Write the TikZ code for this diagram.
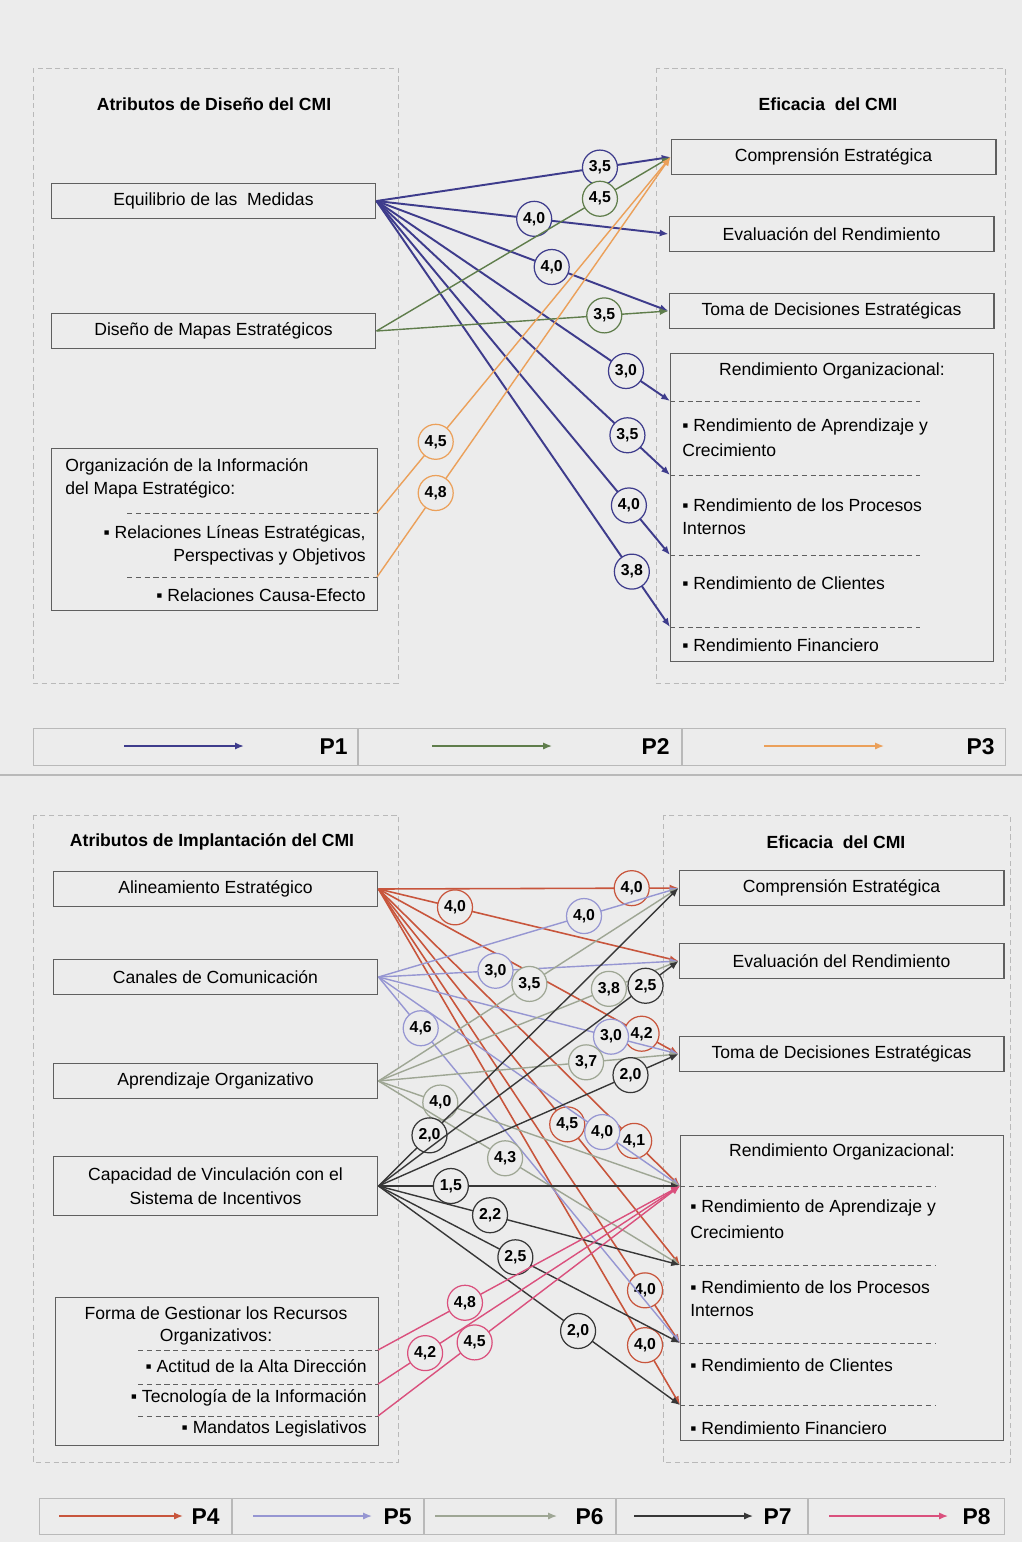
\documentclass[tikz,border=0pt]{standalone}
\usepackage{fontspec}
\setmainfont{Liberation Sans}
\usetikzlibrary{arrows.meta}

\definecolor{bg}{RGB}{236,236,236}
\definecolor{framegray}{RGB}{185,185,185}
\definecolor{boxline}{RGB}{95,95,95}
\definecolor{pone}{RGB}{62,60,140}
\definecolor{ptwo}{RGB}{95,125,75}
\definecolor{pthree}{RGB}{235,160,90}
\definecolor{pfour}{RGB}{200,85,60}
\definecolor{pfive}{RGB}{150,150,210}
\definecolor{psix}{RGB}{158,166,148}
\definecolor{pseven}{RGB}{55,55,55}
\definecolor{peight}{RGB}{218,80,125}

\tikzstyle{box} = [rectangle, draw=boxline, line width=0.6pt, minimum width=6.5cm, minimum height=0.7cm, text centered, inner sep=0pt]
\tikzstyle{bigbox} = [rectangle, draw=boxline, line width=0.6pt, inner sep=0pt, anchor=north west]
\tikzstyle{panel} = [draw=framegray, densely dashed, line width=0.4pt]
\tikzstyle{title} = [font=\bfseries, inner sep=0pt]
\tikzstyle{line} = [inner sep=0pt]
\tikzstyle{sep} = [densely dashed, boxline, line width=0.5pt]
\tikzstyle{val} = [circle, draw, fill=bg, inner sep=0pt, minimum size=0.7cm, font=\small\bfseries, text=black, line width=0.7pt]
\tikzstyle{key} = [font=\fontsize{13}{15}\selectfont\bfseries, inner sep=0pt, anchor=east]
\tikzstyle{arrow} = [-{Latex[length=5pt,width=4pt]}, line width=0.8pt]
\tikzstyle{p1} = [arrow, pone, line width=1.1pt]
\tikzstyle{p2} = [arrow, ptwo]
\tikzstyle{p3} = [arrow, pthree]
\tikzstyle{p4} = [arrow, pfour, line width=0.9pt]
\tikzstyle{p5} = [arrow, pfive]
\tikzstyle{p6} = [arrow, psix]
\tikzstyle{p7} = [arrow, pseven]
\tikzstyle{p8} = [arrow, peight]

\begin{document}
\begin{tikzpicture}[x=0.02cm, y=-0.02cm]
\useasboundingbox (0,0) rectangle (1022,1542);
\fill [bg] (0,0) rectangle (1022,1542);

% ---- panel frames
\draw [panel] (33,68) rectangle (398,683);
\draw [panel] (656,68) rectangle (1005,683);
\draw [panel] (33,815) rectangle (398,1462);
\draw [panel] (663,815) rectangle (1010,1462);
\draw [framegray, line width=0.8pt] (0,775) -- (1022,775);

% ---- design attributes
\node (t1) [title] at (214,104) {Atributos de Diseño del CMI};
\node (t2) [title] at (828,104) {Eficacia~ del CMI};

\node (eq) [box] at (213.5,201) {Equilibrio de las~ Medidas};
\node (dis) [box] at (213.5,331) {Diseño de Mapas Estratégicos};
\node (org) [bigbox, minimum width=6.52cm, minimum height=3.24cm] at (51,448) {};
\node (org1) [line, anchor=west] at (65,467) {Organización de la Información};
\node (org2) [line, anchor=west] at (65,490) {del Mapa Estratégico:};
\draw [sep] (127,513) -- (377,513);
\node (org3) [line, anchor=east] at (366,534) {▪ Relaciones Líneas Estratégicas,};
\node (org4) [line, anchor=east] at (366,557) {Perspectivas y Objetivos};
\draw [sep] (127,577) -- (377,577);
\node (org5) [line, anchor=east] at (366,595) {▪ Relaciones Causa-Efecto};
\coordinate (o1) at (377,513);
\coordinate (o2) at (377,577);

\node (comp1) [box] at (833.5,157) {Comprensión Estratégica};
\node (eval1) [box] at (831.5,234) {Evaluación del Rendimiento};
\node (toma1) [box] at (831.5,311) {Toma de Decisiones Estratégicas};
\node (rend1) [bigbox, minimum width=6.46cm, minimum height=6.16cm] at (670,353) {};
\node (rt1) [line] at (832,371) {Rendimiento Organizacional:};
\draw [sep] (670,401) -- (920,401);
\node (ra1t) [line, anchor=west] at (682,427) {▪ Rendimiento de Aprendizaje y};
\node (ra1u) [line, anchor=west] at (682,450) {Crecimiento};
\draw [sep] (670,475) -- (920,475);
\node (rp1t) [line, anchor=west] at (682,505) {▪ Rendimiento de los Procesos};
\node (rp1u) [line, anchor=west] at (682,529) {Internos};
\draw [sep] (670,555) -- (920,555);
\node (rc1t) [line, anchor=west] at (682,583) {▪ Rendimiento de Clientes};
\draw [sep] (670,627) -- (920,627);
\node (rf1t) [line, anchor=west] at (682,645) {▪ Rendimiento Financiero};
\coordinate (ra1) at (670,401);
\coordinate (rp1) at (670,475);
\coordinate (rc1) at (670,555);
\coordinate (rf1) at (670,627);

\draw [p1] (eq.east) -- node[val,pos=0.76] {3,5} (comp1.west);
\draw [p1] (eq.east) -- node[val,pos=0.54] {4,0} (eval1.west);
\draw [p1] (eq.east) -- node[val,pos=0.6] {4,0} (toma1.west);
\draw [p1] (eq.east) -- node[val,pos=0.85] {3,0} (ra1);
\draw [p1] (eq.east) -- node[val,pos=0.855] {3,5} (rp1);
\draw [p1] (eq.east) -- node[val,pos=0.86] {4,0} (rc1);
\draw [p1] (eq.east) -- node[val,pos=0.87] {3,8} (rf1);
\draw [p2] (dis.east) -- node[val,pos=0.76] {4,5} (comp1.west);
\draw [p2] (dis.east) -- node[val,pos=0.78] {3,5} (toma1.west);
\draw [p3] (o1) -- node[val,pos=0.2] {4,5} (comp1.west);
\draw [p3] (o2) -- node[val,pos=0.2] {4,8} (comp1.west);

% ---- key P1-P3
\node (k1) [rectangle, draw=framegray, line width=0.6pt, minimum width=19.44cm, minimum height=0.74cm, anchor=north west, inner sep=0pt] at (33,728) {};
\draw [framegray, line width=0.6pt] (358,728) -- (358,765) (682,728) -- (682,765);
\coordinate (k1a) at (124,746); \coordinate (k1b) at (244,746);
\coordinate (k2a) at (432,746); \coordinate (k2b) at (552,746);
\coordinate (k3a) at (764,746); \coordinate (k3b) at (884,746);
\draw [p1] (k1a) -- (k1b);
\draw [p2] (k2a) -- (k2b);
\draw [p3] (k3a) -- (k3b);
\node (kp1) [key] at (348,747) {P1};
\node (kp2) [key] at (670,747) {P2};
\node (kp3) [key] at (995,747) {P3};

% ---- implementation attributes
\node (t3) [title] at (212,842) {Atributos de Implantación del CMI};
\node (t4) [title] at (836,842) {Eficacia~ del CMI};

\node (alin) [box] at (215.5,889) {Alineamiento Estratégico};
\node (can) [box] at (215.5,977) {Canales de Comunicación};
\node (apr) [box] at (215.5,1081) {Aprendizaje Organizativo};
\node (cap) [box, minimum height=1.18cm, align=center] at (215.5,1186) {Capacidad de Vinculación con el\\[2pt]Sistema de Incentivos};
\node (forma) [bigbox, minimum width=6.46cm, minimum height=2.96cm] at (55,1297) {};
\node (fo1) [line] at (216,1313) {Forma de Gestionar los Recursos};
\node (fo2) [line] at (216,1337) {Organizativos:};
\draw [sep] (138,1350) -- (378,1350);
\node (fo3) [line, anchor=east] at (367,1366) {▪ Actitud de la Alta Dirección};
\draw [sep] (138,1384) -- (378,1384);
\node (fo4) [line, anchor=east] at (367,1398) {▪ Tecnología de la Información};
\draw [sep] (138,1416) -- (378,1416);
\node (fo5) [line, anchor=east] at (367,1429) {▪ Mandatos Legislativos};
\coordinate (f1) at (378,1350);
\coordinate (f2) at (378,1384);
\coordinate (f3) at (378,1416);

\node (comp2) [box] at (841.5,888) {Comprensión Estratégica};
\node (eval2) [box] at (841.5,961) {Evaluación del Rendimiento};
\node (toma2) [box] at (841.5,1054) {Toma de Decisiones Estratégicas};
\node (rend2) [bigbox, minimum width=6.46cm, minimum height=6.1cm] at (680,1135) {};
\node (rt2) [line] at (842,1152) {Rendimiento Organizacional:};
\draw [sep] (680,1186) -- (935,1186);
\node (ra2t) [line, anchor=west] at (690,1208) {▪ Rendimiento de Aprendizaje y};
\node (ra2u) [line, anchor=west] at (690,1232) {Crecimiento};
\draw [sep] (680,1265) -- (935,1265);
\node (rp2t) [line, anchor=west] at (690,1287) {▪ Rendimiento de los Procesos};
\node (rp2u) [line, anchor=west] at (690,1311) {Internos};
\draw [sep] (680,1343) -- (935,1343);
\node (rc2t) [line, anchor=west] at (690,1365) {▪ Rendimiento de Clientes};
\draw [sep] (680,1405) -- (935,1405);
\node (rf2t) [line, anchor=west] at (690,1428) {▪ Rendimiento Financiero};
\coordinate (ra2) at (680,1186);
\coordinate (rp2) at (680,1265);
\coordinate (rc2) at (680,1343);
\coordinate (rf2) at (680,1405);

% P4
\draw [p4] (alin.east) -- node[val,pos=0.844] {4,0} (comp2.west);
\draw [p4] (alin.east) -- node[val,pos=0.255] {4,0} (eval2.west);
\draw [p4] (alin.east) -- node[val,pos=0.877] {4,2} (toma2.west);
\draw [p4] (alin.east) -- node[val,pos=0.848] {4,1} (ra2);
\draw [p4] (alin.east) -- node[val,pos=0.626] {4,5} (rp2);
\draw [p4] (alin.east) -- node[val,pos=0.884] {4,0} (rc2);
\draw [p4] (alin.east) -- node[val,pos=0.884] {4,0} (rf2);
% P5
\draw [p5] (can.east) -- node[val,pos=0.685] {4,0} (comp2.west);
\draw [p5] (can.east) -- node[val,pos=0.39] {3,0} (eval2.west);
\draw [p5] (can.east) -- node[val,pos=0.775] {3,0} (toma2.west);
\draw [p5] (can.east) -- node[val,pos=0.742] {4,0} (ra2);
\draw [p5] (can.east) -- node[val,pos=0.14] {4,6} (rc2);
% P6
\draw [p6] (apr.east) -- node[val,pos=0.503] {3,5} (comp2.west);
\draw [p6] (apr.east) -- node[val,pos=0.768] {3,8} (eval2.west);
\draw [p6] (apr.east) -- node[val,pos=0.692] {3,7} (toma2.west);
\draw [p6] (apr.east) -- node[val,pos=0.205] {4,0} (ra2);
\draw [p6] (apr.east) -- node[val,pos=0.42] {4,3} (rp2);
% P7
\draw [p7] (cap.east) -- node[val,pos=0.17] {2,0} (comp2.west);
\draw [p7] (cap.east) -- node[val,pos=0.89] {2,5} (eval2.west);
\draw [p7] (cap.east) -- node[val,pos=0.84] {2,0} (toma2.west);
\draw [p7] (cap.east) -- node[val,pos=0.24] {1,5} (ra2);
\draw [p7] (cap.east) -- node[val,pos=0.37] {2,2} (rp2);
\draw [p7] (cap.east) -- node[val,pos=0.454] {2,5} (rc2);
\draw [p7] (cap.east) -- node[val,pos=0.662] {2,0} (rf2);
% P8
\draw [p8] (f1) -- node[val,pos=0.288] {4,8} (ra2);
\draw [p8] (f2) -- node[val,pos=0.156] {4,2} (ra2);
\draw [p8] (f3) -- node[val,pos=0.32] {4,5} (ra2);

% ---- key P4-P8
\node (k2) [rectangle, draw=framegray, line width=0.6pt, minimum width=19.3cm, minimum height=0.72cm, anchor=north west, inner sep=0pt] at (39,1498) {};
\draw [framegray, line width=0.6pt] (232,1498) -- (232,1534) (424,1498) -- (424,1534) (616,1498) -- (616,1534) (808,1498) -- (808,1534);
\coordinate (k4a) at (59,1516); \coordinate (k4b) at (183,1516);
\coordinate (k5a) at (253,1516); \coordinate (k5b) at (372,1516);
\coordinate (k6a) at (435,1516); \coordinate (k6b) at (557,1516);
\coordinate (k7a) at (634,1516); \coordinate (k7b) at (753,1516);
\coordinate (k8a) at (829,1516); \coordinate (k8b) at (948,1516);
\draw [p4] (k4a) -- (k4b);
\draw [p5] (k5a) -- (k5b);
\draw [p6] (k6a) -- (k6b);
\draw [p7] (k7a) -- (k7b);
\draw [p8] (k8a) -- (k8b);
\node (kp4) [key] at (220,1517) {P4};
\node (kp5) [key] at (412,1517) {P5};
\node (kp6) [key] at (604,1517) {P6};
\node (kp7) [key] at (792,1517) {P7};
\node (kp8) [key] at (991,1517) {P8};
\end{tikzpicture}
\end{document}
